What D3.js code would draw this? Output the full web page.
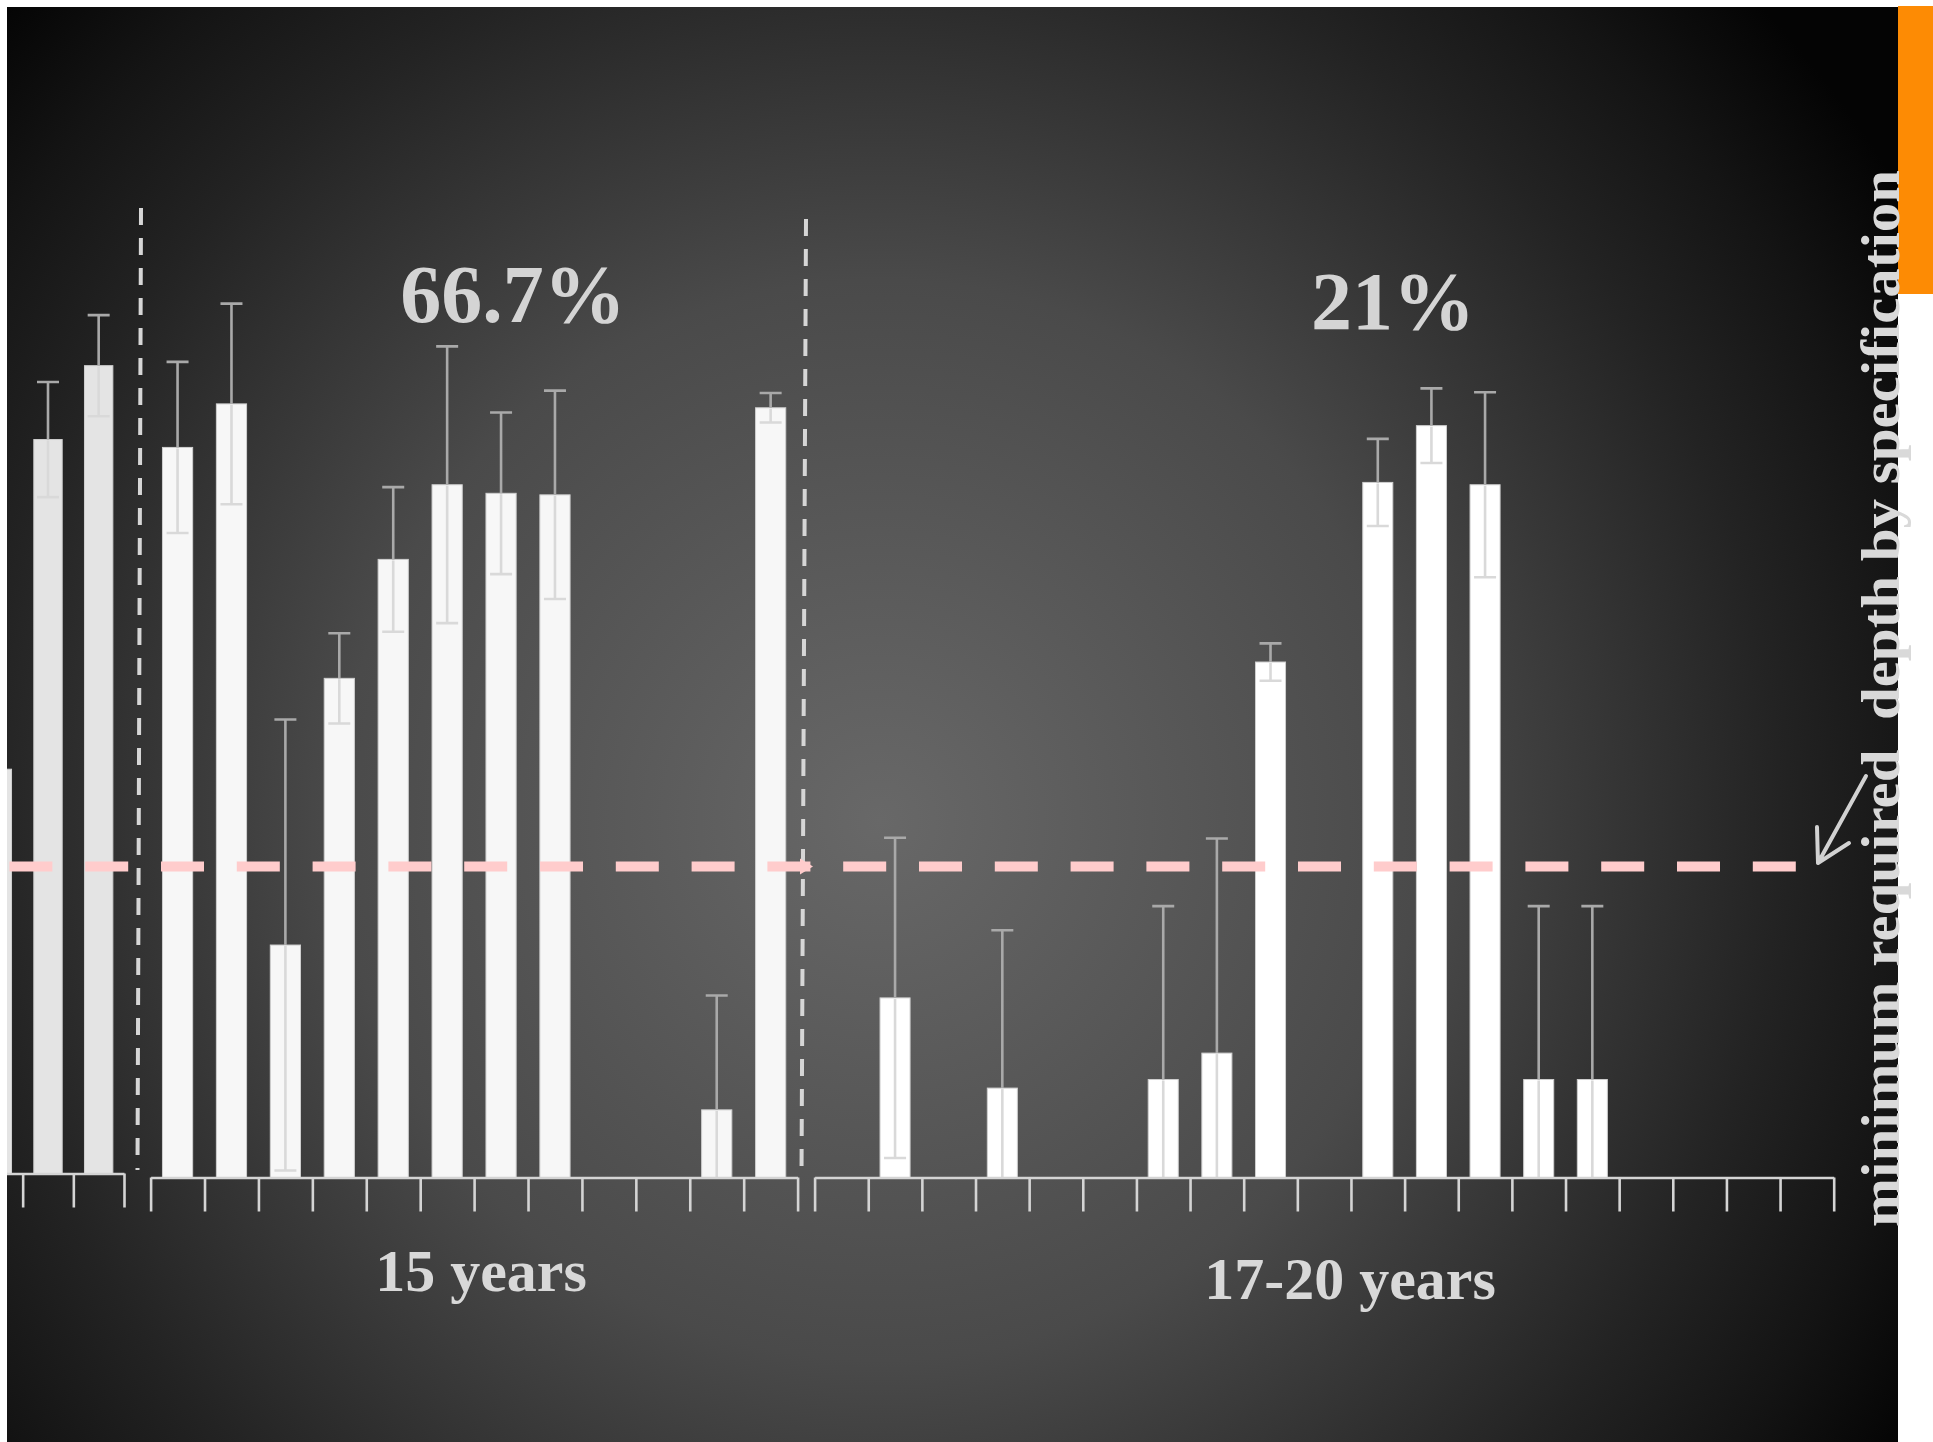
<!DOCTYPE html>
<html>
<head>
<meta charset="utf-8">
<script src="https://cdn.jsdelivr.net/npm/d3@7"></script>
<style>
  html, body { margin: 0; padding: 0; background: #ffffff; }
  svg { display: block; }
</style>
</head>
<body>
<svg id="chart" width="1933" height="1442"></svg>
<script>
// ---------------- data ----------------
// tail of the preceding age group (partly cut off by the panel edge)
const leftCats  = ["a", "b", "c"];
const leftDepth = [52.0, 94.4, 103.9];
const leftSd    = [null, 7.4, 6.5];

// 15-year-old structures, one slot per sampled element (null = no reading)
const cats15  = d3.range(1, 13).map(String);
const depth15 = [93.9, 99.5, 29.9, 64.2, 79.5, 89.1, 88.0, 87.8, null, null, 8.7, 99.0];
const sd15    = [11.0, 12.9, 29.0, 5.8, 9.3, 17.8, 10.4, 13.4, null, null, 14.7, 1.9];

// 17-20-year-old structures
const cats1720  = d3.range(1, 20).map(String);
const depth1720 = [null, 23.1, null, 11.5, null, null, 12.6, 16.0, 66.3, null,
                   89.4, 96.7, 89.1, 12.6, 12.6, null, null, null, null];
const sd1720    = [null, 20.6, null, 20.3, null, null, 22.3, 27.6, 2.4, null,
                   5.6, 4.8, 11.9, 22.3, 22.3, null, null, null, null];

const groupLabels   = ["15 years", "17-20 years"];
const passLabels    = ["66.7%", "21%"];
const minDepth      = 40;
const minDepthLabel = "minimum required  depth by specification";

// ---------------- layout ----------------
const W = 1933, H = 1442;
const panel = { x: 7, y: 7, w: 1891, h: 1435 };
const serif = "'Liberation Serif', 'Times New Roman', 'DejaVu Serif', serif";

const svg = d3.select("#chart");
const defs = svg.append("defs");

const grad = defs.append("radialGradient")
  .attr("id", "bg")
  .attr("gradientUnits", "userSpaceOnUse")
  .attr("cx", 880).attr("cy", 820).attr("r", 1200);
[[0, "#686868"], [0.45, "#4a4a4a"], [0.62, "#343434"], [0.75, "#232323"],
 [0.88, "#141414"], [1, "#040404"]].forEach(([o, c]) =>
  grad.append("stop").attr("offset", o).attr("stop-color", c));

defs.append("clipPath").attr("id", "panelClip")
  .append("rect")
  .attr("x", panel.x).attr("y", panel.y).attr("width", panel.w).attr("height", panel.h);

svg.append("rect")
  .attr("x", panel.x).attr("y", panel.y).attr("width", panel.w).attr("height", panel.h)
  .attr("fill", "url(#bg)");

// orange accent strip at the top right
svg.append("rect")
  .attr("x", 1898).attr("y", 6).attr("width", W - 1898).attr("height", 288)
  .attr("fill", "#fd8b04");

const plot = svg.append("g").attr("clip-path", "url(#panelClip)");

// value scales (the left group sits a few pixels higher)
const y = d3.scaleLinear().domain([0, 100]).range([1177.5, 400]);
const yLeft = d3.scaleLinear().domain([0, 100]).range([1173.5, 396]);

const groups = [
  { cats: leftCats, depth: leftDepth, sd: leftSd, range: [-28, 124], y: yLeft,
    fill: "#e4e4e4", tick: 34, firstTick: 1 },
  { cats: cats15, depth: depth15, sd: sd15, range: [150.6, 797.6], y: y,
    fill: "#f7f7f7", tick: 34, firstTick: 0 },
  { cats: cats1720, depth: depth1720, sd: sd1720, range: [814.6, 1833.7], y: y,
    fill: "#ffffff", tick: 34, firstTick: 0 }
];

groups.forEach(g => {
  const xb = d3.scaleBand().domain(g.cats).range(g.range).padding(0);
  const bw = xb.bandwidth() * 0.56;
  const rows = g.cats.map((c, i) => ({ c, v: g.depth[i], s: g.sd[i] }))
    .filter(d => d.v != null);
  const base = g.y(0);

  // bars
  plot.append("g").selectAll("rect").data(rows).join("rect")
    .attr("x", d => xb(d.c) + (xb.bandwidth() - bw) / 2)
    .attr("y", d => g.y(d.v))
    .attr("width", bw)
    .attr("height", d => base - g.y(d.v))
    .attr("fill", g.fill)
    .attr("stroke", "#cfcfcf")
    .attr("stroke-width", 1);

  // error bars: darker above the bar, paler where they run over it
  const eb = plot.append("g").attr("stroke-width", 2.6).attr("fill", "none");
  const cx = d => xb(d.c) + xb.bandwidth() / 2;
  const withSd = rows.filter(d => d.s != null);
  eb.selectAll("path.up").data(withSd).join("path")
    .attr("class", "up")
    .attr("stroke", "#a9a9a9")
    .attr("d", d => `M${cx(d)},${g.y(d.v)}V${g.y(d.v + d.s)}M${cx(d) - 11},${g.y(d.v + d.s)}H${cx(d) + 11}`);
  eb.selectAll("path.down").data(withSd).join("path")
    .attr("class", "down")
    .attr("stroke", "#d9d9d9")
    .attr("d", d => {
      const lo = d.v - d.s;
      const p = `M${cx(d)},${g.y(d.v) + 1}V${g.y(Math.max(lo, 0))}`;
      return lo > 0 ? p + `M${cx(d) - 11},${g.y(lo)}H${cx(d) + 11}` : p;
    });

  // category axis: ticks on the slot boundaries
  const xi = d3.scaleLinear().domain([0, g.cats.length]).range(g.range);
  const axis = d3.axisBottom(xi)
    .tickValues(d3.range(g.firstTick, g.cats.length + 1))
    .tickSize(g.tick).tickSizeOuter(0).tickFormat("");
  const ax = plot.append("g").attr("transform", `translate(0,${base})`).call(axis);
  ax.select(".domain").attr("stroke", "#d4d4d4").attr("stroke-width", 2.6);
  ax.selectAll(".tick line").attr("stroke", "#d4d4d4").attr("stroke-width", 2.6);
});

// dashed separators between age groups
const separators = [
  { x1: 141, y1: 208, x2: 137.5, y2: 1170 },
  { x1: 806, y1: 219, x2: 801.5, y2: 1176 }
];
plot.append("g").selectAll("line").data(separators).join("line")
  .attr("x1", d => d.x1).attr("y1", d => d.y1)
  .attr("x2", d => d.x2).attr("y2", d => d.y2)
  .attr("stroke", "#d6d6d6").attr("stroke-width", 4)
  .attr("stroke-dasharray", "17 13");

// minimum required depth line
const yMin = y(minDepth);
plot.append("line")
  .attr("x1", 9.4).attr("x2", 1800).attr("y1", yMin).attr("y2", yMin)
  .attr("stroke", "#ffcccc").attr("stroke-width", 10)
  .attr("stroke-dasharray", "43 32.8");
plot.append("path")
  .attr("d", `M800,${yMin - 8}L813,${yMin}L800,${yMin + 8}Z`)
  .attr("fill", "#ffcccc");

// pointer from the label to the line
plot.append("path")
  .attr("d", "M1866,776L1818,863M1817,827L1818,863L1849,843")
  .attr("fill", "none").attr("stroke", "#d2d2d2")
  .attr("stroke-width", 4).attr("stroke-linecap", "round").attr("stroke-linejoin", "round");

// vertical label
svg.append("text")
  .attr("transform", "translate(1899,1227) rotate(-90)")
  .attr("font-family", serif).attr("font-weight", "bold").attr("font-size", 55)
  .attr("fill", "#d9d9d9")
  .attr("textLength", 1057).attr("lengthAdjust", "spacingAndGlyphs")
  .style("white-space", "pre")
  .text(minDepthLabel);

// pass-rate and group labels
const labelPos = [
  { pass: [513, 322], group: [481, 1291] },
  { pass: [1393, 329], group: [1350, 1299] }
];
labelPos.forEach((p, i) => {
  svg.append("text")
    .attr("x", p.pass[0]).attr("y", p.pass[1])
    .attr("text-anchor", "middle")
    .attr("font-family", serif).attr("font-weight", "bold").attr("font-size", 82)
    .attr("fill", "#d4d4d4")
    .text(passLabels[i]);
  svg.append("text")
    .attr("x", p.group[0]).attr("y", p.group[1])
    .attr("text-anchor", "middle")
    .attr("font-family", serif).attr("font-weight", "bold").attr("font-size", 60)
    .attr("fill", "#d8d8d8")
    .text(groupLabels[i]);
});
</script>
</body>
</html>
